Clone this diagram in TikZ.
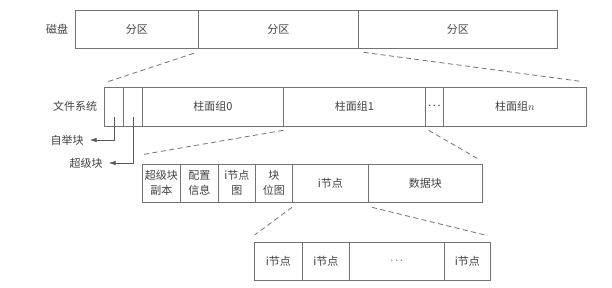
\documentclass[tikz,border=0pt]{standalone}
\usepackage{fontspec}
\setmainfont{Noto Sans CJK SC}
\usetikzlibrary{arrows.meta}
\tikzset{
  cell/.style={
    draw=black!55,
    line width=0.7pt,
    inner sep=0pt,
    anchor=west,
    minimum height=38pt,
    text=black!75,
    align=center,
    font=\fontsize{11}{15}\selectfont
  },
  zoomline/.style={
    draw=black!55,
    line width=0.8pt,
    dash pattern=on 5pt off 3.5pt
  },
  pointer/.style={
    draw=black!65,
    line width=0.7pt,
    -{Latex[length=7pt,width=4.5pt]}
  },
  tag/.style={
    text=black!75,
    inner sep=2pt,
    font=\fontsize{11}{13}\selectfont
  }
}
\newcommand{\bigdots}{{\Large$\cdot\!\cdot\!\cdot$}}
\begin{document}
\begin{tikzpicture}[x=1pt,y=-1pt]
  \useasboundingbox (0,0) rectangle (612,288);
  % disk
  \node[tag] (disk) at (57,29) {磁盘};
  \foreach \i/\l/\r in {1/75/198, 2/198/358, 3/358/557}{
    \node[cell,minimum width=\r-\l] (p\i) at (\l,29) {分区};
  }
  % file system
  \node[tag] (fs) at (75,106) {文件系统};
  \foreach \i/\l/\r/\t in {1/104/123/{}, 2/123/142/{}, 3/142/283/{柱面组0},
      4/283/425/{柱面组1}, 5/425/443/{\bigdots}, 6/443/586/{柱面组$n$}}{
    \node[cell,minimum width=\r-\l,minimum height=39pt] (f\i) at (\l,106.5) {\t};
  }
  % cylinder group
  \foreach \i/\l/\r/\t in {1/142/180/{超级块\\副本}, 2/180/218/{配置\\信息},
      3/218/255/{i节点\\图}, 4/255/292/{块\\位图}, 5/292/368/{i节点},
      6/368/482/{数据块}}{
    \node[cell,minimum width=\r-\l] (s\i) at (\l,183) {\t};
  }
  % inodes
  \foreach \i/\l/\r/\t in {1/254/302/{i节点}, 2/302/349/{i节点},
      3/349/444/{$\cdots$}, 4/444/490/{i节点}}{
    \node[cell,minimum width=\r-\l] (r\i) at (\l,261) {\t};
  }
  % boot and super block
  \node[tag] (boot) at (67,140) {自举块};
  \node[tag] (super) at (86,163) {超级块};
  \draw[pointer] ([yshift=9pt]f1.south) |- ([xshift=4pt]boot.east);
  \draw[pointer] ([yshift=9pt]f2.south) |- ([xshift=4pt]super.east);
  % zoom lines
  \draw[zoomline] ([shift={(-5pt,-5pt)}]p1.south east) -- ([shift={(4pt,5pt)}]f1.north west);
  \draw[zoomline] ([shift={(5pt,-4pt)}]p2.south east) -- ([shift={(-4pt,5pt)}]f6.north east);
  \draw[zoomline] ([yshift=-4pt]f4.south west) -- ([yshift=9pt]s1.north west);
  \draw[zoomline] ([shift={(3pt,-4pt)}]f4.south east) -- ([shift={(-5pt,5pt)}]s6.north east);
  \draw[zoomline] ([yshift=-5pt]s5.south west) -- ([shift={(1pt,7pt)}]r1.north west);
  \draw[zoomline] ([shift={(4pt,-5pt)}]s6.south west) -- ([shift={(-3pt,6pt)}]r4.north east);
\end{tikzpicture}
\end{document}
